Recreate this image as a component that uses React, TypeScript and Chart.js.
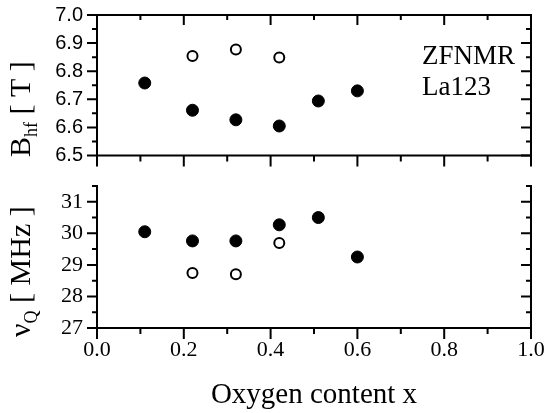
import React, { useEffect, useRef } from 'react';
import { Chart, registerables } from 'chart.js';

Chart.register(...registerables);

// ---- data ----
const xFilled = [0.11, 0.22, 0.32, 0.42, 0.51, 0.6];
const bhfFilled = [6.758, 6.661, 6.627, 6.605, 6.694, 6.73];
const xOpen = [0.22, 0.32, 0.42];
const bhfOpen = [6.854, 6.877, 6.849];
const nuqFilled = [30.05, 29.76, 29.76, 30.27, 30.5, 29.25];
const nuqOpen = [28.74, 28.7, 29.69];

// ---- ticks ----
const xTicks = [0, 0.2, 0.4, 0.6, 0.8, 1.0];
const xMinorTicks = [0.1, 0.3, 0.5, 0.7, 0.9];
const bhfTicks = [6.5, 6.6, 6.7, 6.8, 6.9, 7.0];
const bhfMinorTicks = [6.55, 6.65, 6.75, 6.85, 6.95];
const nuqTicks = [27, 28, 29, 30, 31];
const nuqMinorTicks = [27.5, 28.5, 29.5, 30.5, 31.5];

const SERIF = "'Liberation Serif', 'Times New Roman', serif";
const SANS = "'Liberation Sans', Arial, sans-serif";

type Part = { text: string; sub?: boolean };

function drawRotatedTitle(ctx: CanvasRenderingContext2D, x: number, y: number, parts: Part[], size: number) {
  ctx.save();
  ctx.translate(x, y);
  ctx.rotate(-Math.PI / 2);
  ctx.fillStyle = '#000';
  ctx.textAlign = 'left';
  ctx.textBaseline = 'alphabetic';
  let cx = 0;
  for (const p of parts) {
    const fs = p.sub ? Math.round(size * 0.6) : size;
    ctx.font = `${fs}px ${SERIF}`;
    ctx.fillText(p.text, cx, p.sub ? size * 0.22 : 0);
    cx += ctx.measureText(p.text).width;
  }
  ctx.restore();
}

type FrameCfg = {
  yMajor: number[];
  yMinor: number[];
  topLine: boolean;
  topTicks: boolean;
  title: Part[];
  titleX: number;
  titleY: number;
  notes?: { text: string; x: number; y: number }[];
};

function makeFramePlugin(cfg: FrameCfg) {
  return {
    id: 'frame',
    afterDraw(chart: any) {
      const { ctx, chartArea } = chart;
      const { left, right, top, bottom } = chartArea;
      const x = chart.scales.x;
      const y = chart.scales.y;
      ctx.save();
      ctx.strokeStyle = '#000';
      ctx.lineWidth = 2;
      ctx.lineCap = 'square';
      ctx.beginPath();
      if (cfg.topLine) {
        ctx.moveTo(left, top);
        ctx.lineTo(right, top);
      }
      ctx.moveTo(left, top);
      ctx.lineTo(left, bottom);
      ctx.lineTo(right, bottom);
      ctx.lineTo(right, top);
      ctx.stroke();
      ctx.lineCap = 'butt';
      ctx.beginPath();
      const yt = (v: number, len: number) => {
        const p = y.getPixelForValue(v);
        ctx.moveTo(left, p);
        ctx.lineTo(left - len, p);
        ctx.moveTo(right, p);
        ctx.lineTo(right - len, p);
      };
      cfg.yMajor.forEach((v) => yt(v, 10));
      cfg.yMinor.forEach((v) => yt(v, 5));
      const xt = (v: number, len: number) => {
        const p = x.getPixelForValue(v);
        ctx.moveTo(p, bottom);
        ctx.lineTo(p, bottom + len);
        if (cfg.topTicks) {
          ctx.moveTo(p, top);
          ctx.lineTo(p, top + len - 1);
        }
      };
      xTicks.forEach((v) => xt(v, 11));
      xMinorTicks.forEach((v) => xt(v, 6));
      ctx.stroke();
      ctx.restore();

      drawRotatedTitle(ctx, cfg.titleX, cfg.titleY, cfg.title, 30);

      if (cfg.notes) {
        ctx.save();
        ctx.fillStyle = '#000';
        ctx.font = `27px ${SERIF}`;
        ctx.textAlign = 'left';
        ctx.textBaseline = 'alphabetic';
        cfg.notes.forEach((n) => ctx.fillText(n.text, n.x, n.y));
        ctx.restore();
      }
    },
  };
}

function datasets(xf: number[], yf: number[], xo: number[], yo: number[]) {
  return [
    {
      label: 'filled',
      data: xf.map((v, i) => ({ x: v, y: yf[i] })),
      backgroundColor: '#000',
      borderColor: '#000',
      pointRadius: 6,
      borderWidth: 1,
    },
    {
      label: 'open',
      data: xo.map((v, i) => ({ x: v, y: yo[i] })),
      backgroundColor: '#fff',
      borderColor: '#000',
      pointRadius: 5,
      borderWidth: 2,
    },
  ];
}

const fixY = (s: any) => {
  s.width = 97;
  s.paddingTop = 0;
  s.paddingBottom = 0;
};

export default function App() {
  const topRef = useRef<HTMLCanvasElement>(null);
  const botRef = useRef<HTMLCanvasElement>(null);

  useEffect(() => {
    const common = {
      responsive: false,
      animation: false as const,
      events: [] as any[],
      plugins: { legend: { display: false }, tooltip: { enabled: false } },
    };

    const top = new Chart(topRef.current as HTMLCanvasElement, {
      type: 'scatter',
      data: { datasets: datasets(xFilled, bhfFilled, xOpen, bhfOpen) as any },
      options: {
        ...common,
        clip: false as any,
        layout: { autoPadding: false, padding: { left: 0, right: 14, top: 15, bottom: 19.5 } },
        scales: {
          x: { type: 'linear', min: 0, max: 1, display: false },
          y: {
            type: 'linear',
            min: 6.5,
            max: 7.0,
            afterBuildTicks: (s: any) => {
              s.ticks = bhfTicks.map((v) => ({ value: v }));
            },
            afterFit: fixY,
            ticks: {
              callback: (v: any) => Number(v).toFixed(1),
              font: { family: SANS, size: 20 },
              color: '#000',
              padding: 14,
            },
            grid: { display: false, drawTicks: false },
            border: { display: false },
          },
        },
      } as any,
      plugins: [
        makeFramePlugin({
          yMajor: bhfTicks,
          yMinor: bhfMinorTicks,
          topLine: true,
          topTicks: true,
          title: [{ text: 'B' }, { text: 'hf', sub: true }, { text: ' [ T ]' }],
          titleX: 30,
          titleY: 157,
          notes: [
            { text: 'ZFNMR', x: 422, y: 64 },
            { text: 'La123', x: 422, y: 95 },
          ],
        }),
      ],
    });

    const bot = new Chart(botRef.current as HTMLCanvasElement, {
      type: 'scatter',
      data: { datasets: datasets(xFilled, nuqFilled, xOpen, nuqOpen) as any },
      options: {
        ...common,
        clip: false as any,
        layout: { autoPadding: false, padding: { left: 0, right: 14, top: 21, bottom: 0 } },
        scales: {
          x: {
            type: 'linear',
            min: 0,
            max: 1,
            afterBuildTicks: (s: any) => {
              s.ticks = xTicks.map((v) => ({ value: v }));
            },
            afterFit: (s: any) => {
              s.height = 85;
              s.paddingLeft = 0;
              s.paddingRight = 0;
            },
            ticks: {
              callback: (v: any) => Number(v).toFixed(1),
              font: { family: SERIF, size: 22 },
              color: '#000',
              padding: 9,
              maxRotation: 0,
            },
            grid: { display: false, drawTicks: false },
            border: { display: false },
            title: {
              display: true,
              text: 'Oxygen content x',
              font: { family: SERIF, size: 29 },
              color: '#000',
              padding: { top: 0, bottom: 0 },
            },
          },
          y: {
            type: 'linear',
            min: 27,
            max: 31.5,
            afterBuildTicks: (s: any) => {
              s.ticks = nuqTicks.map((v) => ({ value: v }));
            },
            afterFit: fixY,
            ticks: {
              callback: (v: any) => String(v),
              font: { family: SERIF, size: 22 },
              color: '#000',
              padding: 14,
            },
            grid: { display: false, drawTicks: false },
            border: { display: false },
          },
        },
      } as any,
      plugins: [
        makeFramePlugin({
          yMajor: nuqTicks,
          yMinor: nuqMinorTicks,
          topLine: false,
          topTicks: false,
          title: [{ text: 'ν' }, { text: 'Q', sub: true }, { text: ' [ MHz ]' }],
          titleX: 30,
          titleY: 172,
        }),
      ],
    });

    return () => {
      top.destroy();
      bot.destroy();
    };
  }, []);

  return (
    <div style={{ position: 'absolute', left: 0, top: 0, width: 545, height: 413, background: '#fff', overflow: 'hidden' }}>
      <canvas ref={topRef} width={545} height={175} style={{ position: 'absolute', left: 0, top: 0, width: 545, height: 175 }} />
      <canvas ref={botRef} width={545} height={248} style={{ position: 'absolute', left: 0, top: 165, width: 545, height: 248 }} />
    </div>
  );
}
